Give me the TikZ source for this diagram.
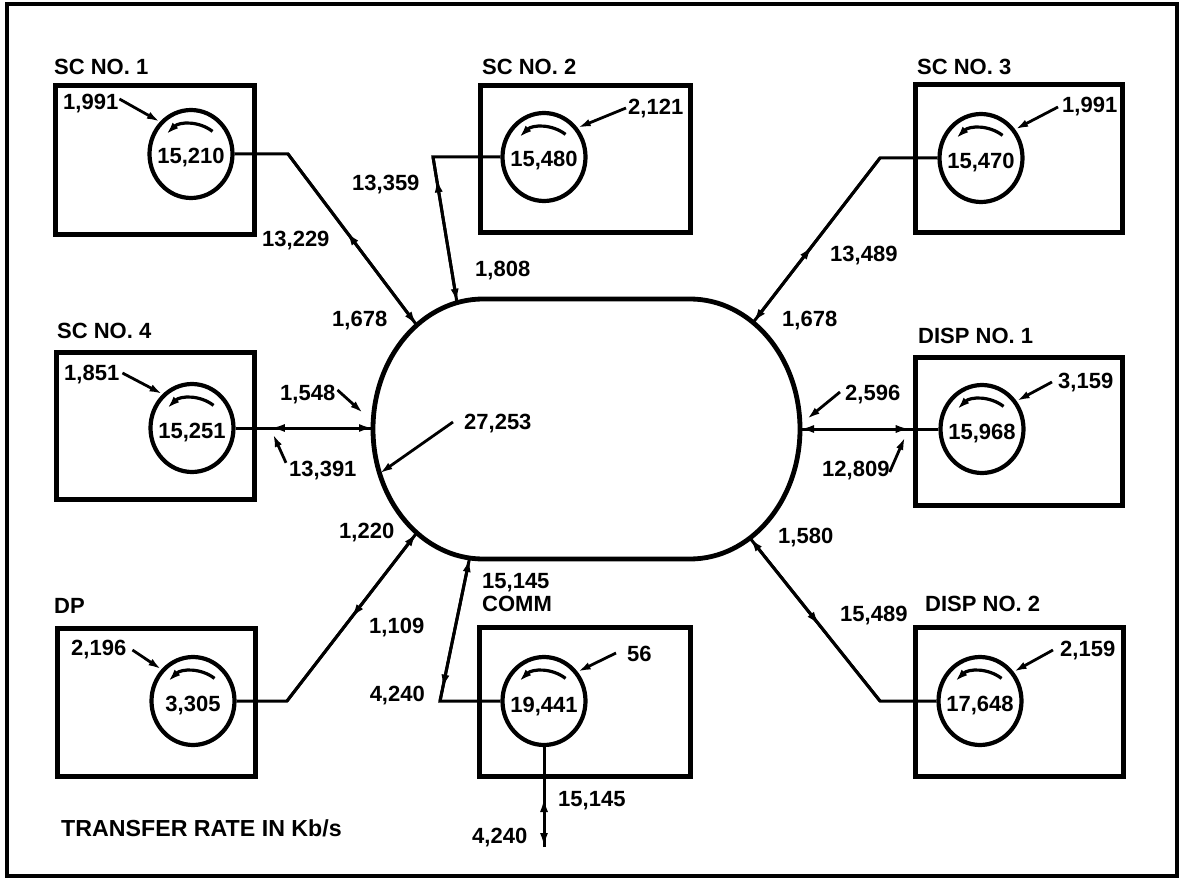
\documentclass[tikz,border=0pt]{standalone}
\usepackage{fontspec}
\setmainfont{Liberation Sans}
\usetikzlibrary{arrows.meta,decorations.markings,shapes.geometric,calc}
\begin{document}
\begin{tikzpicture}[x=1pt,y=-1pt,
  lbl/.style={font=\fontsize{22}{24}\selectfont\bfseries, text height=16pt, text depth=0pt, inner sep=0pt},
  unitbox/.style={draw, line width=5pt, rectangle, inner sep=0pt},
  procnode/.style={draw, ellipse, line width=4.2pt, minimum width=83pt, minimum height=88pt, inner sep=0pt},
  link/.style={line width=3pt},
  endtip/.style={-{Latex[length=14pt,width=8pt]}},
  midtip/.style={postaction={decorate}, decoration={markings, mark=at position #1 with {\arrow{Latex[length=15pt,width=8pt]}}}},
  ptr/.style={line width=2.8pt, -{Latex[length=13pt,width=7.5pt]}},
  spin/.style={line width=3.2pt, -{Latex[length=12pt,width=8pt]}},
]
\useasboundingbox (0,0) rectangle (1181,880);
\draw[line width=3.2pt] (7,4) rectangle (1177,876);

% central hub
\draw[line width=4.8pt] (483,299) -- (690,299) arc[start angle=-90,end angle=90,x radius=110,y radius=130] -- (483,559) arc[start angle=90,end angle=270,x radius=110,y radius=130] -- cycle;
\coordinate (h1) at (416.8,325.2);
\coordinate (h2) at (457.0,302.7);
\coordinate (h3) at (753.1,322.5);
\coordinate (h4) at (373,428);
\coordinate (h5) at (800,429);
\coordinate (h6) at (416.8,532.8);
\coordinate (h7) at (469.6,558);
\coordinate (h8) at (749.9,538);
\coordinate (h9) at (379.6,473.5);

% boxes
\node[unitbox, minimum width=199pt, minimum height=149pt] (b1) at (155,160) {};
\node[unitbox, minimum width=210pt, minimum height=147pt] (b2) at (585.5,159) {};
\node[unitbox, minimum width=207pt, minimum height=148pt] (b3) at (1019,158.5) {};
\node[unitbox, minimum width=198pt, minimum height=147pt] (b4) at (155.5,426) {};
\node[unitbox, minimum width=207pt, minimum height=148pt] (b5) at (1019,431.5) {};
\node[unitbox, minimum width=198pt, minimum height=148pt] (b6) at (156.5,702.5) {};
\node[unitbox, minimum width=211pt, minimum height=149pt] (b7) at (585,702) {};
\node[unitbox, minimum width=208pt, minimum height=149pt] (b8) at (1019.5,702) {};

% box titles
\node[lbl,anchor=west] (n1) at (54,67) {SC NO. 1};
\node[lbl,anchor=west] (n2) at (482,67) {SC NO. 2};
\node[lbl,anchor=west] (n3) at (917,67) {SC NO. 3};
\node[lbl,anchor=west] (n4) at (57,330) {SC NO. 4};
\node[lbl,anchor=west] (n5) at (918,335) {DISP NO. 1};
\node[lbl,anchor=west] (n6) at (54,605) {DP};
\node[lbl,anchor=west] (n7) at (482,603) {COMM};
\node[lbl,anchor=west] (n8) at (925,603) {DISP NO. 2};

% processors
\node[procnode] (c1) at (191,154) {};
\node[procnode] (c2) at (544,157) {};
\node[procnode] (c3) at (981,158) {};
\node[procnode] (c4) at (192,428) {};
\node[procnode] (c5) at (982,429) {};
\node[procnode] (c6) at (193,701) {};
\node[procnode] (c7) at (544,701) {};
\node[procnode] (c8) at (980,701) {};
\node[lbl] (t1) at ($(c1)+(0,2)$) {15,210};
\node[lbl] (t2) at ($(c2)+(0,2)$) {15,480};
\node[lbl] (t3) at ($(c3)+(0,2)$) {15,470};
\node[lbl] (t4) at ($(c4)+(0,2)$) {15,251};
\node[lbl] (t5) at ($(c5)+(0,2)$) {15,968};
\node[lbl] (t6) at ($(c6)+(0,2)$) {3,305};
\node[lbl] (t7) at ($(c7)+(0,3)$) {19,441};
\node[lbl] (t8) at ($(c8)+(0,2)$) {17,648};
\foreach \c in {c1,c2,c3,c4,c5,c6,c7,c8}
  \draw[spin] ($(\c)+(0,5)+(-52:35)$) arc[start angle=-52,end angle=-134,radius=35];

% inputs
\node[lbl,anchor=west] (i1) at (63,102) {1,991};
\node[lbl,anchor=west] (i2) at (628,107) {2,121};
\node[lbl,anchor=west] (i3) at (1062,105) {1,991};
\node[lbl,anchor=west] (i4) at (64,372) {1,851};
\node[lbl,anchor=west] (i5) at (1058,380) {3,159};
\node[lbl,anchor=west] (i6) at (71,647) {2,196};
\node[lbl,anchor=west] (i7) at (627,653) {56};
\node[lbl,anchor=west] (i8) at (1060,648) {2,159};
\draw[ptr] ($(i1.east)+(1,-3)$) -- (c1.134);
\draw[ptr] ($(i2.west)+(-2,1)$) -- (c2.41);
\draw[ptr] ($(i3.west)+(-4,2)$) -- (c3.40);
\draw[ptr] ($(i4.east)+(3,1)$) -- (c4.131);
\draw[ptr] ($(i5.west)+(-6,2)$) -- (c5.39);
\draw[ptr] ($(i6.east)+(6,3)$) -- (c6.135);
\draw[ptr] ($(i7.west)+(-11,0)$) -- (c7.41);
\draw[ptr] ($(i8.west)+(-7,2)$) -- (c8.41);

% connectors
\coordinate (k1) at (288,154);
\coordinate (k2) at (433,157);
\coordinate (k3) at (880,158);
\coordinate (k6) at (287,701);
\coordinate (k7) at (440,701);
\coordinate (k8) at (880,701);
\coordinate (cb) at (544,847);
\draw[link,endtip] (c1.east) -- (k1) -- (h1);
\draw[link,midtip=0.55] (h1) -- (k1);
\draw[link,endtip] (c2.west) -- (k2) -- (h2);
\draw[link,midtip=0.86] (h2) -- (k2);
\draw[link,endtip] (c3.west) -- (k3) -- (h3);
\draw[link,midtip=0.47] (h3) -- (k3);
\draw[link,endtip] (c4.east) -- (h4);
\draw[link,midtip=0.75] (h4) -- (c4.east);
\draw[link,endtip] (c5.west) -- (h5);
\draw[link,midtip=0.8] (h5) -- (c5.west);
\draw[link,endtip] (c6.east) -- (k6) -- (h6);
\draw[link,midtip=0.51] (h6) -- (k6);
\draw[link,endtip] (c7.west) -- (k7) -- (h7);
\draw[link,midtip=0.92] (h7) -- (k7);
\draw[link,endtip] (c7.south) -- (cb);
\draw[link,midtip=0.5] (cb) -- (c7.south);
\draw[link,endtip] (c8.west) -- (k8) -- (h8);
\draw[link,midtip=0.54] (h8) -- (k8);

% connector labels
\node[lbl,anchor=west] (l13229) at (262,238) {13,229};
\node[lbl,anchor=west] (l13359) at (352,182) {13,359};
\node[lbl,anchor=west] (l1808) at (475,268) {1,808};
\node[lbl,anchor=west] (l1678a) at (332,318) {1,678};
\node[lbl,anchor=west] (l13489) at (830,253) {13,489};
\node[lbl,anchor=west] (l1678b) at (782,318) {1,678};
\node[lbl,anchor=west] (l1220) at (339,530) {1,220};
\node[lbl,anchor=west] (l1580) at (778,535) {1,580};
\node[lbl,anchor=west] (l1109) at (369,625) {1,109};
\node[lbl,anchor=west] (l15489) at (840,613) {15,489};
\node[lbl,anchor=east] (l4240a) at (425,693) {4,240};
\node[lbl,anchor=west] (l15145a) at (482,580) {15,145};
\node[lbl,anchor=west] (l15145b) at (558,798) {15,145};
\node[lbl,anchor=west] (l4240b) at (472,835) {4,240};
\node[lbl,anchor=west,font=\fontsize{23.2}{25}\selectfont\bfseries] (lnote) at (61,828) {TRANSFER RATE IN Kb/s};

% pointer labels
\node[lbl,anchor=west] (l27253) at (464,421) {27,253};
\draw[ptr] ($(l27253.west)+(-11,1)$) -- (h9);
\node[lbl,anchor=west] (l1548) at (280,392) {1,548};
\coordinate (p1) at (363,413);
\draw[ptr] ($(l1548.east)+(2,-2)$) -- (p1);
\node[lbl,anchor=west] (l13391) at (289,468) {13,391};
\coordinate (p2) at (273,434);
\draw[ptr] ($(l13391.north west)+(-3,3)$) -- (p2);
\node[lbl,anchor=west] (l2596) at (845,392) {2,596};
\coordinate (p3) at (807,419);
\draw[ptr] ($(l2596.west)+(-5,0)$) -- (p3);
\node[lbl,anchor=west] (l12809) at (822,468) {12,809};
\coordinate (p4) at (905,437);
\draw[ptr] ($(l12809.east)+(0,4)$) -- (p4);
\end{tikzpicture}
\end{document}
